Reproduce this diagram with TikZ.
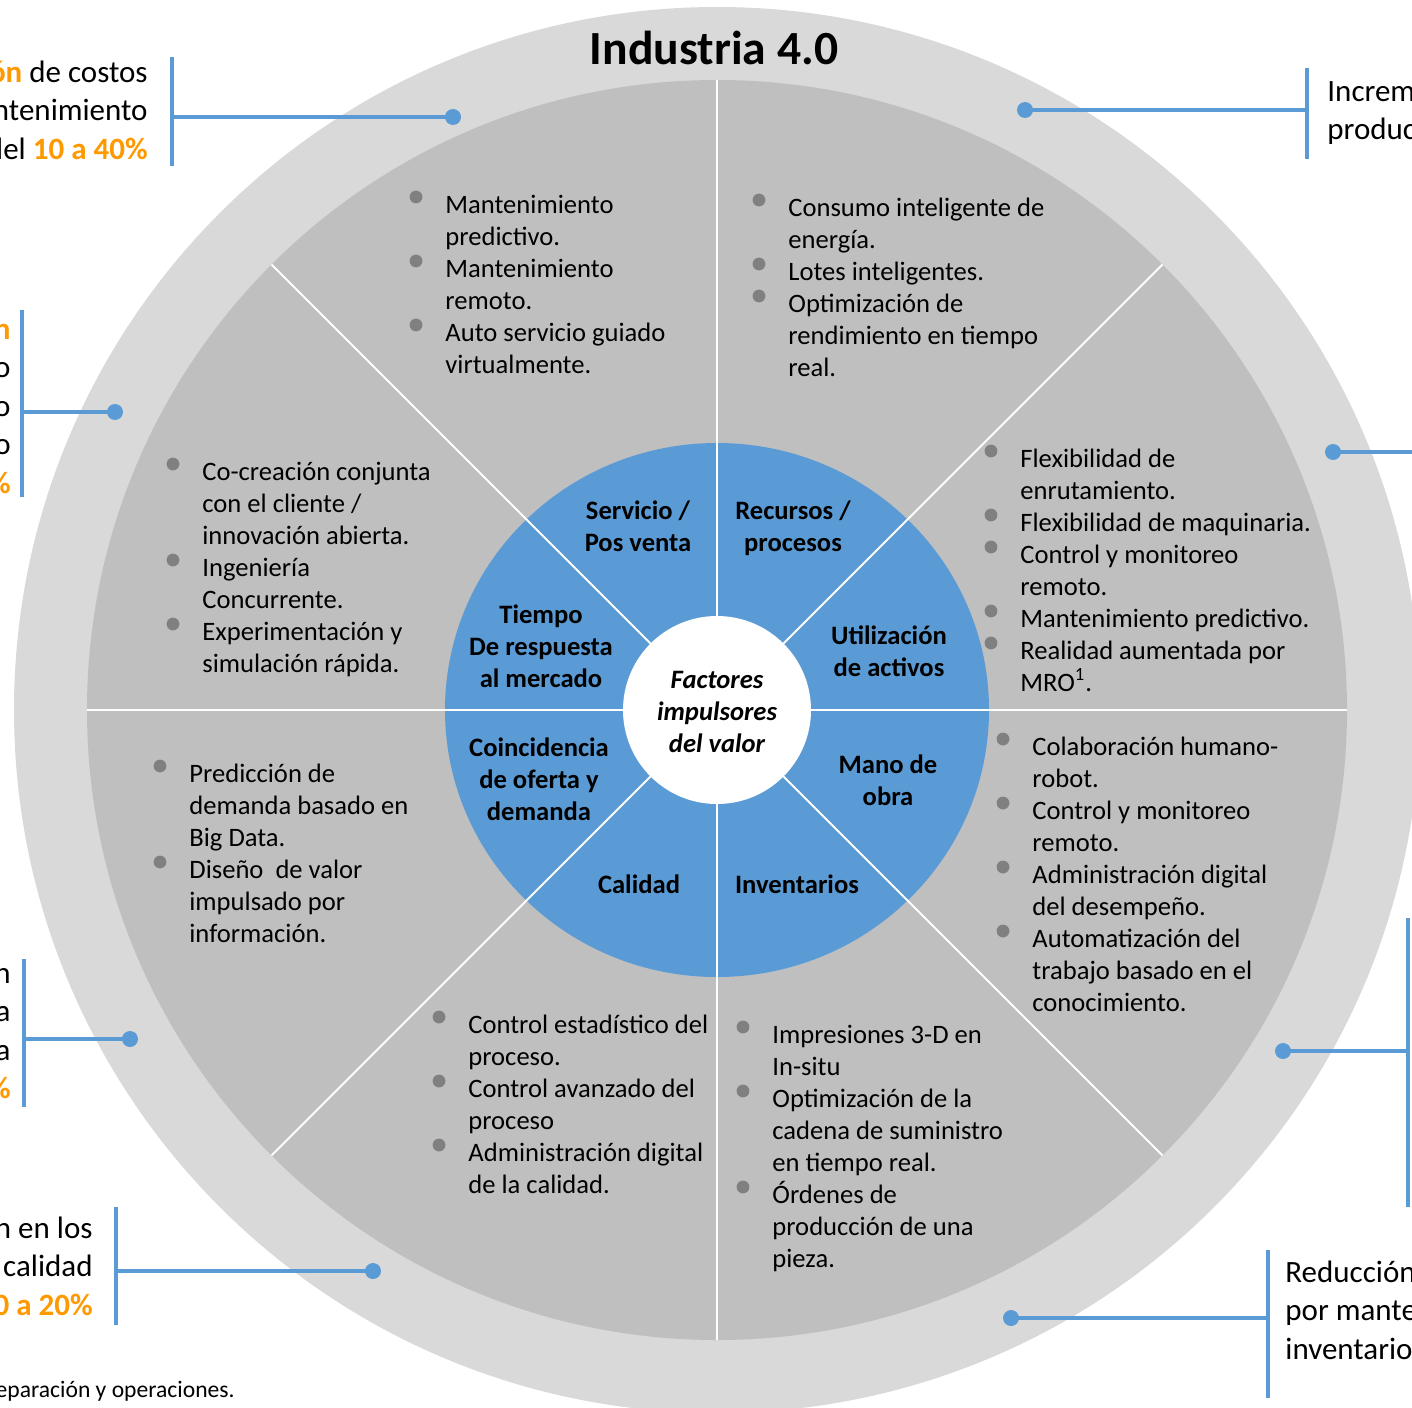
\documentclass[tikz,border=0pt]{standalone}
\usepackage{fontspec}
\setmainfont{Carlito}
\definecolor{ringgray}{HTML}{D9D9D9}
\definecolor{midgray}{HTML}{BFBFBF}
\definecolor{vblue}{HTML}{5B9BD5}
\definecolor{bulgray}{HTML}{808080}
\definecolor{orng}{HTML}{FF9900}
\newcommand\fst{\rule{0pt}{12pt}}
\newcommand\cst{\rule{0pt}{14pt}}
\newcommand\og[1]{\textcolor{orng}{\bfseries #1}}
\newcommand\sectortext[5]{%
  \node[bodytext] (#1) at (#2,#3-24) {\fst #5};
  \foreach \ii in {#4} {\fill[bulgray] (#2-29,#3+32*\ii-16) circle[radius=3.2pt];}
}
\begin{document}
\begin{tikzpicture}[x=0.5pt,y=-0.5pt,
  bodytext/.style={inner sep=0pt, align=left, font=\fontsize{13.3}{16}\selectfont, anchor=north west},
  lbl/.style={inner sep=0pt, align=center, font=\fontsize{13.3}{16}\selectfont\bfseries, anchor=north},
  callt/.style={inner sep=0pt, font=\fontsize{15.5}{19.25}\selectfont},
  callout/.style={draw=vblue, line width=2pt},
  cdot/.style={circle, fill=vblue, inner sep=0pt, minimum size=8pt},
  divline/.style={draw=white, line width=1pt}
]
\useasboundingbox (0,0) rectangle (1412,1407);
\clip (0,0) rectangle (1412,1407);
\fill[white] (0,0) rectangle (1412,1407);

\coordinate (C) at (717,710);
% rings
\fill[ringgray] (C) circle[radius=351.5pt];
\fill[midgray] (C) circle[radius=315pt];
\fill[vblue] (C) ellipse[x radius=136pt, y radius=133.5pt];
% dividing lines
\coordinate (vt) at (717,80);
\coordinate (vb) at (717,1340);
\coordinate (hl) at (87,710);
\coordinate (hr) at (1347,710);
\coordinate (d1a) at (271.5,264.5);
\coordinate (d1b) at (1162.5,1155.5);
\coordinate (d2a) at (1162.5,264.5);
\coordinate (d2b) at (271.5,1155.5);
\draw[divline] (vt) -- (vb);
\draw[divline] (hl) -- (hr);
\draw[divline] (d1a) -- (d1b);
\draw[divline] (d2a) -- (d2b);
\fill[white] (C) circle[radius=47pt];

% title
\node[font=\fontsize{23.8}{28}\selectfont\bfseries, anchor=base, inner sep=0pt] (title) at (714,65) {Industria 4.0};

% blue labels
\node[lbl] (svc) at (638,495) {\fst Servicio /\\Pos venta};
\node[lbl] (rec) at (793,495) {\fst Recursos /\\procesos};
\node[lbl] (tie) at (541,599) {\fst Tiempo\\De respuesta\\al mercado};
\node[lbl] (uti) at (889,620) {\fst Utilización\\de activos};
\node[lbl, font=\fontsize{13.3}{16}\selectfont\bfseries\itshape] (fac) at (717,664) {\fst Factores\\impulsores\\del valor};
\node[lbl] (coi) at (539,732) {\fst Coincidencia\\de oferta y\\demanda};
\node[lbl] (man) at (888,749) {\fst Mano de\\obra};
\node[lbl] (cal) at (639,869) {\fst Calidad};
\node[lbl] (inv) at (797,869) {\fst Inventarios};

% sector texts
\sectortext{s1}{445}{213}{0,2,4}{Mantenimiento\\predictivo.\\Mantenimiento\\remoto.\\Auto servicio guiado\\virtualmente.}
\sectortext{s2}{788}{216}{0,2,3}{Consumo inteligente de\\energía.\\Lotes inteligentes.\\Optimización de\\rendimiento en tiempo\\real.}
\sectortext{s3}{1020}{467}{0,2,3,5,6}{Flexibilidad de\\enrutamiento.\\Flexibilidad de maquinaria.\\Control y monitoreo\\remoto.\\Mantenimiento predictivo.\\Realidad aumentada por\\MRO\textsuperscript{1}.}
\sectortext{s4}{1032}{755}{0,2,4,6}{Colaboración humano-\\robot.\\Control y monitoreo\\remoto.\\Administración digital\\del desempeño.\\Automatización del\\trabajo basado en el\\conocimiento.}
\sectortext{s5}{772}{1043}{0,2,5}{Impresiones 3-D en\\In-situ\\Optimización de la\\cadena de suministro\\en tiempo real.\\Órdenes de\\producción de una\\pieza.}
\sectortext{s6}{468}{1033}{0,2,4}{Control estadístico del\\proceso.\\Control avanzado del\\proceso\\Administración digital\\de la calidad.}
\sectortext{s7}{189}{782}{0,3}{Predicción de\\demanda basado en\\Big Data.\\Diseño\ \ de valor\\impulsado por\\información.}
\sectortext{s8}{202}{480}{0,3,5}{Co-creación conjunta\\con el cliente /\\innovación abierta.\\Ingeniería\\Concurrente.\\Experimentación y\\simulación rápida.}

% callouts
% 1 top left
\node[cdot] (p1) at (453,117) {};
\coordinate (h1) at (172,117);
\coordinate (b1t) at (172,57);
\coordinate (b1b) at (172,166);
\draw[callout] (b1t) -- (b1b);
\draw[callout] (h1) -- (p1.center);
\node[callt, align=right, anchor=north east] (t1) at (148,54) {\cst\og{Reducción} de costos\\por mantenimiento\\del \og{10 a 40\%}};
% 2 left
\node[cdot] (p2) at (115,412) {};
\coordinate (h2) at (22,412);
\coordinate (b2t) at (22,310);
\coordinate (b2b) at (22,497);
\draw[callout] (b2t) -- (b2b);
\draw[callout] (h2) -- (p2.center);
\node[callt, align=right, anchor=north east] (t2) at (11,311) {\cst\og{Reducción}\\del tiempo\\de lanzamiento\\al mercado\\del \og{20 a 50\%}};
% 3 lower left
\node[cdot] (p3) at (130,1039) {};
\coordinate (h3) at (24,1039);
\coordinate (b3t) at (24,959);
\coordinate (b3b) at (24,1107);
\draw[callout] (b3t) -- (b3b);
\draw[callout] (h3) -- (p3.center);
\node[callt, align=right, anchor=north east] (t3) at (11,955) {\cst Mejora en la precisión\\de pronóstico de demanda\\por encima\\del \og{85\%}};
% 4 bottom left
\node[cdot] (p4) at (373,1271) {};
\coordinate (h4) at (116,1271);
\coordinate (b4t) at (116,1207);
\coordinate (b4b) at (116,1325);
\draw[callout] (b4t) -- (b4b);
\draw[callout] (h4) -- (p4.center);
\node[callt, align=right, anchor=north east] (t4) at (93,1210) {\cst Reducción en los\\costos de calidad\\del \og{10 a 20\%}};
% 5 top right
\node[cdot] (p5) at (1025,110) {};
\coordinate (h5) at (1307,110);
\coordinate (b5t) at (1307,68);
\coordinate (b5b) at (1307,159);
\draw[callout] (b5t) -- (b5b);
\draw[callout] (h5) -- (p5.center);
\node[callt, align=left, anchor=north west] (t5) at (1327,73) {\cst Incremento de la\\productividad del \og{3 a 5\%}};
% 6 right
\node[cdot] (p6) at (1333,452) {};
\coordinate (h6) at (1430,452);
\draw[callout] (h6) -- (p6.center);
% 7 right lower
\node[cdot] (p7) at (1283,1051) {};
\coordinate (h7) at (1408,1051);
\coordinate (b7t) at (1408,918);
\coordinate (b7b) at (1408,1207);
\draw[callout] (b7t) -- (b7b);
\draw[callout] (h7) -- (p7.center);
% 8 bottom right
\node[cdot] (p8) at (1011,1318) {};
\coordinate (h8) at (1268,1318);
\coordinate (b8t) at (1268,1250);
\coordinate (b8b) at (1268,1398);
\draw[callout] (b8t) -- (b8b);
\draw[callout] (h8) -- (p8.center);
\node[callt, align=left, anchor=north west] (t8) at (1285,1254) {\cst Reducción de costos\\por mantener\\inventarios del \og{20 a 50\%}};

% footnote
\node[font=\fontsize{11.8}{14}\selectfont, anchor=base east, inner sep=0pt] (fn) at (235,1397) {\textsuperscript{1} MRO: Mantenimiento, reparación y operaciones.};
\end{tikzpicture}
\end{document}
